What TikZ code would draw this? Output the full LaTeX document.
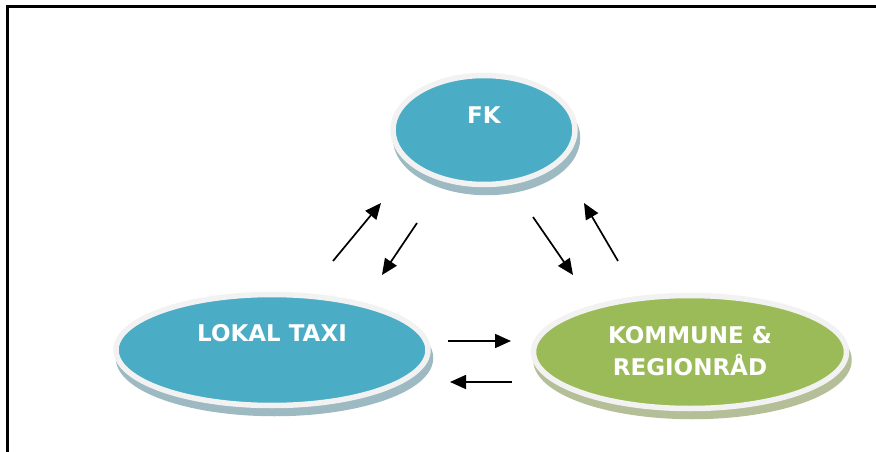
\documentclass[tikz,border=0pt]{standalone}
\usepackage{fontspec}
\newfontfamily\diagfont{DejaVu Sans}
\usetikzlibrary{arrows.meta,shapes.geometric}
\definecolor{discblue}{HTML}{4BACC6}
\definecolor{discgreen}{HTML}{9BBB59}
\definecolor{ringgrey}{HTML}{F2F2F2}
\definecolor{bluerim}{HTML}{9DB9C2}
\definecolor{greenrim}{HTML}{B4BF98}
\tikzset{
  roledisc/.style 2 args={
    ellipse,
    fill=#1,
    draw=ringgrey,
    line width=5.5pt,
    inner sep=0pt,
    preaction={fill=#2, draw=#2, transform canvas={xshift=2.5pt,yshift=-8pt}}
  },
  disctext/.style={
    text=white,
    font=\diagfont\bfseries\fontsize{23}{32}\selectfont,
    align=center
  },
  flowarrow/.style={
    -{Triangle[length=16pt,width=14pt]},
    line width=1.7pt,
    draw=black
  }
}

\begin{document}
\begin{tikzpicture}[x=1pt,y=-1pt]
  \useasboundingbox (0,0) rectangle (876,452);
  % ramme
  \draw[line width=2.2pt] (7.5,452) -- (7.5,6.5) -- (876,6.5);

  \node[roledisc={discblue}{bluerim},minimum width=182pt,minimum height=109pt,
    label={[disctext,yshift=15pt]center:FK}] (fk) at (484,130) {};
  \node[roledisc={discblue}{bluerim},minimum width=312pt,minimum height=111pt,
    label={[disctext,yshift=16.5pt]center:LOKAL TAXI}] (taxi) at (272,350) {};
  \node[roledisc={discgreen}{greenrim},minimum width=313pt,minimum height=113pt,
    label={[disctext,yshift=1pt]center:{KOMMUNE \&\\REGIONRÅD}}] (kommune) at (690,352) {};

  % pilepar mellem parterne
  \coordinate (taxifk a) at (333,261);
  \coordinate (taxifk b) at (381,203);
  \coordinate (fktaxi a) at (417,223);
  \coordinate (fktaxi b) at (382,275);
  \coordinate (fkkom a) at (533,217);
  \coordinate (fkkom b) at (573,275);
  \coordinate (komfk a) at (618,261);
  \coordinate (komfk b) at (584,203);
  \coordinate (taxikom a) at (448,341);
  \coordinate (taxikom b) at (511,341);
  \coordinate (komtaxi a) at (512,382);
  \coordinate (komtaxi b) at (450,382);

  \draw[flowarrow] (taxifk a) -- (taxifk b);
  \draw[flowarrow] (fktaxi a) -- (fktaxi b);
  \draw[flowarrow] (fkkom a) -- (fkkom b);
  \draw[flowarrow] (komfk a) -- (komfk b);
  \draw[flowarrow] (taxikom a) -- (taxikom b);
  \draw[flowarrow] (komtaxi a) -- (komtaxi b);
\end{tikzpicture}
\end{document}
